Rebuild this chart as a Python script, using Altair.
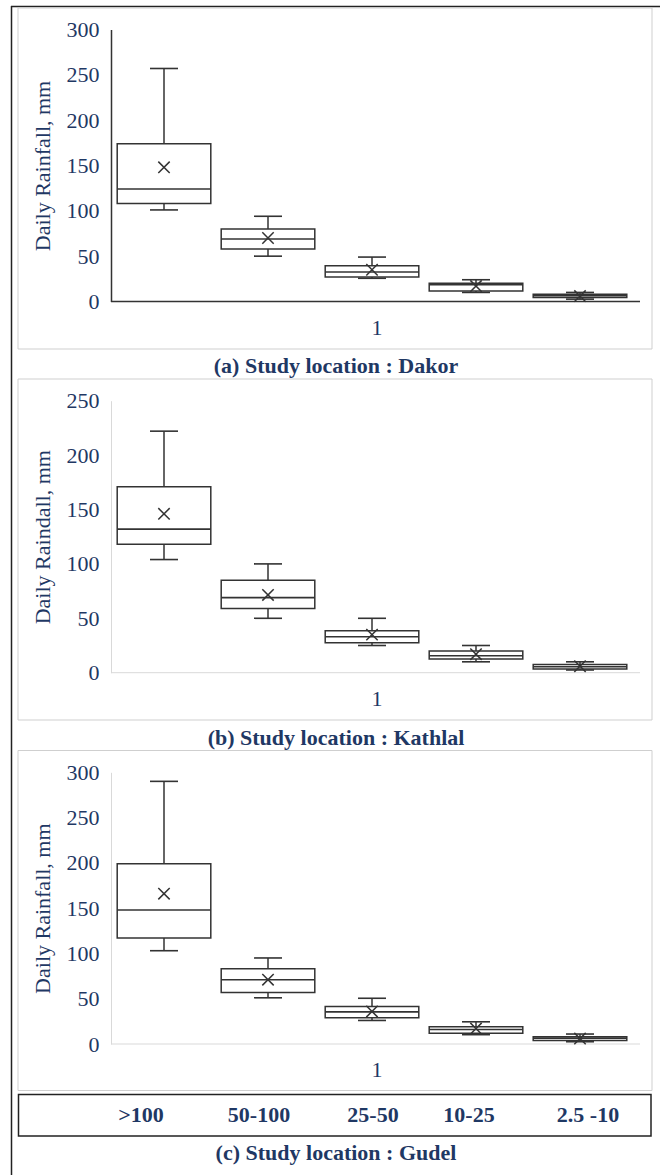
import altair as alt
import pandas as pd

# ---------------- data ----------------
categories = [">100", "50-100", "25-50", "10-25", "2.5 -10"]

dakor_min = [101, 50, 25.6, 10, 2.6]
dakor_q1 = [108, 58, 27, 11.6, 4.5]
dakor_median = [124, 69, 32.5, 18.5, 6.5]
dakor_q3 = [174, 80, 39.5, 20, 8]
dakor_max = [257, 94, 49, 24, 10]
dakor_mean = [148, 70, 35, 17, 6]

kathlal_min = [104, 50, 25, 10, 2.5]
kathlal_q1 = [118, 59, 27.6, 12.6, 3.5]
kathlal_median = [132, 69, 33, 15.6, 5.5]
kathlal_q3 = [171, 85, 38.5, 20, 7.5]
kathlal_max = [222, 100, 50, 25, 10]
kathlal_mean = [146, 71.5, 35, 17, 6]

gudel_min = [103, 51, 26, 10.3, 2.5]
gudel_q1 = [117, 57, 29, 12, 4]
gudel_median = [148, 71, 35.5, 16, 6.5]
gudel_q3 = [199, 83, 41.5, 19, 8]
gudel_max = [290, 95, 50.5, 24.5, 11]
gudel_mean = [166, 71, 36, 17, 6]

ticks_300 = [0, 50, 100, 150, 200, 250, 300]
ticks_250 = [0, 50, 100, 150, 200, 250]

# ---------------- styling / layout ----------------
NAVY = "#1f3864"
LINE = "#333333"
SERIF = "Liberation Serif"
LABEL_DX = [-23, -9, 1, -7, 8]

xscale = alt.Scale(domain=categories, range=[112, 632], paddingInner=0.1, paddingOuter=0.05)


def frame(stats):
    lo, q1, med, q3, hi, mean = stats
    return pd.DataFrame({"cat": categories, "lo": lo, "q1": q1, "med": med,
                         "q3": q3, "hi": hi, "mean": mean})


panels = [
    dict(df=frame([dakor_min, dakor_q1, dakor_median, dakor_q3, dakor_max, dakor_mean]),
         title="Daily Rainfall, mm", caption="(a) Study location : Dakor",
         ticks=ticks_300, ymax=300, y0=301.5, ytop=29.5,
         acolor="#333333", awidth=1.5, cap_y=366, border=(8, 349)),
    dict(df=frame([kathlal_min, kathlal_q1, kathlal_median, kathlal_q3, kathlal_max, kathlal_mean]),
         title="Daily Raindall, mm", caption="(b) Study location : Kathlal",
         ticks=ticks_250, ymax=250, y0=672.7, ytop=400.7,
         acolor="#d9d9d9", awidth=1, cap_y=738, border=(379, 720)),
    dict(df=frame([gudel_min, gudel_q1, gudel_median, gudel_q3, gudel_max, gudel_mean]),
         title="Daily Rainfall, mm", caption="(c) Study location : Gudel",
         ticks=ticks_300, ymax=300, y0=1044, ytop=772.3,
         acolor="#d9d9d9", awidth=1, cap_y=1153, border=(750.5, 1090.5)),
]

one = pd.DataFrame({"k": [0]})


def xenc():
    return alt.X("cat:N", scale=xscale, axis=None)


layers = []

# outer black frame (top + left)
layers.append(alt.Chart(one).mark_rule(color="#222222", strokeWidth=1.5).encode(
    x=alt.value(11), x2=alt.value(660), y=alt.value(6.5)))
layers.append(alt.Chart(one).mark_rule(color="#222222", strokeWidth=1.5).encode(
    x=alt.value(11.5), y=alt.value(6), y2=alt.value(1175)))

for p in panels:
    ys = alt.Scale(domain=[0, p["ymax"]], range=[p["y0"], p["ytop"]], nice=False, zero=True)
    ax = alt.Axis(values=p["ticks"], orient="left", offset=-111, grid=False, ticks=False,
                  tickSize=0, domainColor=p["acolor"], domainWidth=p["awidth"],
                  labelFont=SERIF, labelFontSize=22, labelColor=NAVY, labelPadding=12,
                  labelFlush=False, title=p["title"], titleFont=SERIF, titleFontSize=22,
                  titleFontWeight="normal", titleColor=NAVY, titleX=-69,
                  titleY=(p["y0"] + p["ytop"]) / 2, titleBaseline="middle",
                  titleAlign="center", titleAngle=270)

    def yq(field, ys=ys, ax=ax):
        return alt.Y(f"{field}:Q", scale=ys, axis=ax)

    df = p["df"]
    base = alt.Chart(df)
    zero = pd.DataFrame({"v": [0], "lab": ["1"]})

    whisk_lo = base.mark_rule(color=LINE, strokeWidth=1.5).encode(
        x=xenc(), y=yq("lo"), y2=alt.Y2("q1:Q"))
    whisk_hi = base.mark_rule(color=LINE, strokeWidth=1.5).encode(
        x=xenc(), y=yq("q3"), y2=alt.Y2("hi:Q"))
    box = base.mark_bar(fill="white", stroke=LINE, strokeWidth=1.5, opacity=1).encode(
        x=xenc(), y=yq("q1"), y2=alt.Y2("q3:Q"))
    median = base.mark_tick(color=LINE, size=93.6, thickness=1.6, opacity=1).encode(
        x=xenc(), y=yq("med"))
    cap_lo = base.mark_tick(color=LINE, size=28, thickness=1.6, opacity=1).encode(
        x=xenc(), y=yq("lo"))
    cap_hi = base.mark_tick(color=LINE, size=28, thickness=1.6, opacity=1).encode(
        x=xenc(), y=yq("hi"))
    mean = base.mark_point(shape="M-1,-1L1,1M-1,1L1,-1", size=130, filled=False,
                           color=LINE, strokeWidth=1.5, opacity=1).encode(
        x=xenc(), y=yq("mean"))
    baseline = alt.Chart(zero).mark_rule(color=p["acolor"], strokeWidth=p["awidth"]).encode(
        x=alt.value(111), x2=alt.value(640), y=yq("v"))
    one_lab = alt.Chart(zero).mark_text(font=SERIF, fontSize=22, color=NAVY,
                                        baseline="middle", align="center", dy=26).encode(
        x=alt.value(377), y=yq("v"), text="lab:N")

    panel = alt.layer(baseline, whisk_lo, whisk_hi, box, median, cap_lo, cap_hi, mean, one_lab)
    layers.append(panel)

    # light grey panel border
    layers.append(alt.Chart(one).mark_rect(fillOpacity=0, stroke="#cfcfcf", strokeWidth=1).encode(
        x=alt.value(18), x2=alt.value(652), y=alt.value(p["border"][0]), y2=alt.value(p["border"][1])))
    # caption
    layers.append(alt.Chart(one).mark_text(font=SERIF, fontSize=22, fontWeight="bold", color=NAVY,
                                           align="center", baseline="middle").encode(
        x=alt.value(336), y=alt.value(p["cap_y"]), text=alt.value(p["caption"])))

# category table under the last panel
layers.append(alt.Chart(one).mark_rect(fillOpacity=0, stroke="#222222", strokeWidth=1.5).encode(
    x=alt.value(18.5), x2=alt.value(651), y=alt.value(1094.5), y2=alt.value(1136)))
cat_df = pd.DataFrame({"cat": categories})
for i, c in enumerate(categories):
    layers.append(alt.Chart(cat_df.iloc[[i]]).mark_text(
        font=SERIF, fontSize=22, fontWeight="bold", color=NAVY, align="center",
        baseline="middle", dx=LABEL_DX[i]).encode(
        x=xenc(), y=alt.value(1115), text="cat:N"))

chart = alt.layer(*layers).resolve_scale(y="independent").properties(
    width=660, height=1175, padding=0,
    autosize=alt.AutoSizeParams(type="none"),
).configure_view(strokeWidth=0)

chart.save("out.html", embed_options={"renderer": "svg", "actions": False})
